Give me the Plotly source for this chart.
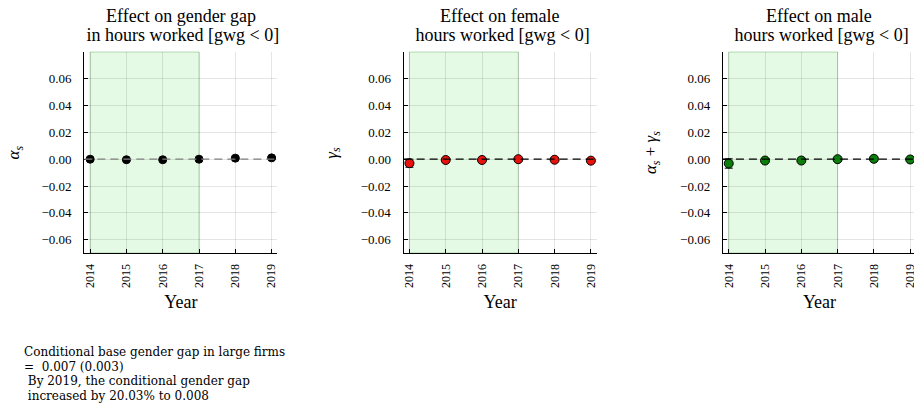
import plotly.graph_objects as go

years = [2014, 2015, 2016, 2017, 2018, 2019]

gap_vals = [0.0000, -0.0004, -0.0004, 0.0000, 0.0008, 0.0010]
gap_err = [0.0010, 0.0008, 0.0008, 0.0000, 0.0008, 0.0008]

fem_vals = [-0.0030, -0.0006, -0.0006, 0.0000, -0.0004, -0.0011]
fem_err = [0.0030, 0.0008, 0.0008, 0.0000, 0.0008, 0.0008]

male_vals = [-0.0032, -0.0010, -0.0010, 0.0000, 0.0003, -0.0002]
male_err = [0.0035, 0.0008, 0.0008, 0.0000, 0.0008, 0.0008]

titles = [
    ["Effect on gender gap", " in hours worked [gwg < 0]"],
    ["Effect on female", " hours worked [gwg < 0]"],
    ["Effect on male", " hours worked [gwg < 0]"],
]
ylabels = [
    "<i>α</i><sub><i>s</i></sub>",
    "<i>γ</i><sub><i>s</i></sub>",
    "<i>α</i><sub><i>s</i></sub> + <i>γ</i><sub><i>s</i></sub>",
]
y_tick_vals = [-0.06, -0.04, -0.02, 0.00, 0.02, 0.04, 0.06]
y_tick_text = ["−0.06", "−0.04", "−0.02", "0.00", "0.02", "0.04", "0.06"]
shade_start, shade_end = 2014, 2017
note_lines = [
    "Conditional base gender gap in large firms",
    "=  0.007 (0.003)",
    " By 2019, the conditional gender gap",
    " increased by 20.03% to 0.008",
]

series = [(gap_vals, gap_err, "black"), (fem_vals, fem_err, "#e8120c"), (male_vals, male_err, "#0b7d0b")]
zero_colors = ["#7f7f7f", "black", "black"]

# page body has an 8px margin: lay out the figure in window pixels minus that offset
OFF = 8
WIN_W, WIN_H = 922, 405
W, H = WIN_W - OFF, WIN_H - OFF


def px_x(x):
    return (x - OFF) / W


def px_y(y):
    return 1 - (y - OFF) / H


x_domains = [(px_x(83.5), px_x(277)), (px_x(403.5), px_x(597)), (px_x(723.5), px_x(917))]
y_domain = (px_y(253), px_y(52))
ytitle_x = [15, 333, 653]
title_line_y = [16, 35]
note_line_y = [352, 366.5, 381, 395.5]

SERIF = "Liberation Serif"

fig = go.Figure()
for i, (vals, errs, col) in enumerate(series):
    xa = "x" if i == 0 else f"x{i+1}"
    ya = "y" if i == 0 else f"y{i+1}"
    fig.add_trace(go.Scatter(
        x=years, y=vals, mode="markers", xaxis=xa, yaxis=ya,
        marker=dict(size=9 if i else 8, color=col, line=dict(color="black", width=1)),
        error_y=dict(type="data", array=errs, color="black", thickness=1, width=4),
        showlegend=False, cliponaxis=False,
    ))
    axkey = "" if i == 0 else str(i + 1)
    fig.update_layout({
        f"xaxis{axkey}": dict(
            domain=list(x_domains[i]), anchor=ya, range=[2013.84, 2019.16],
            tickvals=years, ticktext=[str(y) for y in years], tickangle=-90,
            showgrid=True, gridcolor="rgba(0,0,0,0.1)", gridwidth=1,
            showline=True, linecolor="black", linewidth=1.3, ticks="inside", ticklen=4,
            tickcolor="black", zeroline=False, ticklabelstandoff=5,
            tickfont=dict(family=SERIF, size=12, color="black"),
            title=dict(text="Year", font=dict(family=SERIF, size=18, color="black"), standoff=8),
            fixedrange=True,
        ),
        f"yaxis{axkey}": dict(
            domain=list(y_domain), anchor=xa, range=[-0.07, 0.08],
            tickvals=y_tick_vals, ticktext=y_tick_text,
            showgrid=True, gridcolor="rgba(0,0,0,0.1)", gridwidth=1,
            showline=True, linecolor="black", linewidth=1.3, ticks="inside", ticklen=4,
            tickcolor="black", zeroline=False, ticklabelstandoff=9,
            tickfont=dict(family=SERIF, size=13, color="black"),
            fixedrange=True,
        ),
    })
    # shaded period
    fig.add_shape(type="rect", xref=xa, yref=f"{ya} domain", x0=shade_start, x1=shade_end, y0=0, y1=1,
                  fillcolor="rgb(228,250,228)", line=dict(color="rgba(0,110,0,0.25)", width=1), layer="below")
    # zero reference line
    fig.add_shape(type="line", xref=f"{xa} domain", yref=ya, x0=0, x1=1, y0=0, y1=0,
                  line=dict(color=zero_colors[i], width=1.2, dash="8px,5px"), layer="above")
    cx = (x_domains[i][0] + x_domains[i][1]) / 2
    for line, ly in zip(titles[i], title_line_y):
        fig.add_annotation(text=line, xref="paper", yref="paper", x=cx, y=px_y(ly),
                           xanchor="center", yanchor="middle", showarrow=False,
                           font=dict(family=SERIF, size=18, color="black"))
    fig.add_annotation(text=ylabels[i], xref="paper", yref="paper", x=px_x(ytitle_x[i]),
                       y=(y_domain[0] + y_domain[1]) / 2, xanchor="center", yanchor="middle",
                       textangle=-90, showarrow=False, font=dict(family=SERIF, size=17, color="black"))

for line, ly in zip(note_lines, note_line_y):
    fig.add_annotation(text=line.replace(" ", "&nbsp;") if line.startswith(" ") or "  " in line else line,
                       xref="paper", yref="paper", x=px_x(21), y=px_y(ly),
                       xanchor="left", yanchor="middle", align="left", showarrow=False,
                       font=dict(family="DejaVu Serif", size=12, color="black"))

fig.update_layout(width=W, height=H, margin=dict(l=0, r=0, t=0, b=0),
                  paper_bgcolor="white", plot_bgcolor="white")
fig.write_html("out.html")
